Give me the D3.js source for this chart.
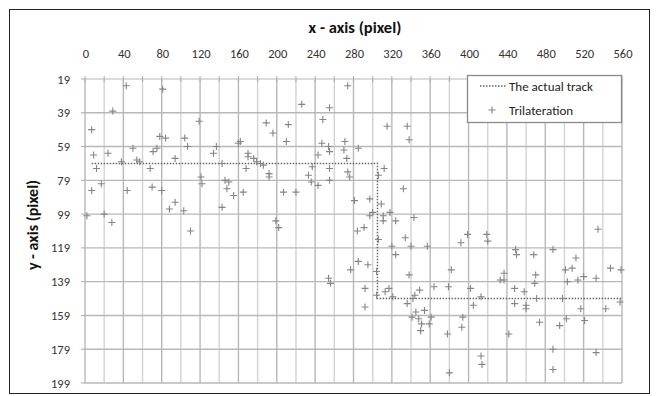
<!DOCTYPE html>
<html>
<head>
<meta charset="utf-8">
<script src="https://cdn.jsdelivr.net/npm/d3@7"></script>
<style>
  html, body { margin: 0; padding: 0; background: #fff; }
  svg { display: block; }
  text { font-family: Carlito, Calibri, Lato, "Open Sans", sans-serif; }
</style>
</head>
<body>
<svg id="chart" width="659" height="396"></svg>
<script>
// ---- data ----
const xTicks = [0, 40, 80, 120, 160, 200, 240, 280, 320, 360, 400, 440, 480, 520, 560];
const yTicks = [19, 39, 59, 79, 99, 119, 139, 159, 179, 199];

const trackX = [7, 305, 305, 560];
const trackY = [69, 69, 149, 149];

const triX = [
  43, 81, 29, 7, 119, 189, 78, 84, 104, 162, 160, 50, 75, 71, 107, 137, 134, 9, 24, 170,
  170, 176, 179, 183, 186, 54, 57, 38, 94, 68, 12, 168, 121, 122, 17, 7, 44, 70, 80, 146,
  150, 148, 155, 165, 94, 88, 103, 143, 2, 20, 28, 110, 143,
  274, 226, 255, 196, 212, 248, 315, 336, 338, 210, 247, 254, 255, 271, 270, 285, 243, 273,
  237, 255, 312, 192, 192, 233, 236, 243, 255, 274, 276, 306, 207, 220, 332, 281, 297, 309,
  300, 297, 311, 311, 318, 324, 343, 199, 202, 291, 284,
  306, 334, 320, 340, 357, 324, 285, 295, 277, 304, 338, 382, 254, 256, 292, 317, 313, 304,
  321, 344, 349, 342, 364, 379, 336, 292, 345, 354, 341, 348, 361, 351, 359, 350, 378, 380,
  535, 399, 392, 419, 420, 449, 450, 468, 488, 512, 501, 508, 548, 559, 437, 433, 437, 470,
  469, 503, 514, 520, 533, 402, 413, 448, 458, 471, 498, 405, 448, 460, 460, 517, 543, 558,
  394, 393, 502, 521, 474, 495, 442, 413, 414, 488, 488, 533
];
const triY = [
  23, 25, 38, 49, 44, 45, 53, 54, 54, 56, 57, 60, 60, 62, 59, 59, 63, 64, 63, 63,
  65, 66, 68, 69, 70, 67, 68, 68, 66, 72, 72, 72, 77, 81, 81, 85, 85, 83, 85, 79,
  80, 84, 88, 86, 92, 96, 97, 95, 100, 99, 104, 109, 69,
  23, 34, 36, 51, 46, 43, 47, 47, 55, 56, 57, 59, 62, 56, 61, 60, 64, 66,
  71, 72, 72, 75, 77, 76, 80, 82, 79, 74, 77, 76, 86, 86, 84, 91, 90, 93,
  98, 100, 100, 103, 98, 103, 101, 103, 107, 107, 109,
  114, 113, 118, 118, 118, 123, 127, 129, 132, 133, 135, 132, 137, 140, 143, 143, 145, 147,
  148, 147, 144, 149, 142, 142, 152, 154, 157, 156, 160, 161, 160, 164, 164, 168, 170, 193,
  108, 111, 116, 111, 115, 120, 123, 123, 120, 125, 132, 131, 131, 132, 134, 138, 138, 135,
  140, 139, 138, 136, 137, 143, 148, 143, 145, 149, 149, 153, 152, 153, 155, 155, 155, 151,
  160, 166, 161, 162, 163, 165, 170, 183, 188, 179, 191, 181
];

// ---- layout ----
const svg = d3.select("#chart");
const x = d3.scaleLinear().domain([0, 560]).range([85, 622]);
const y = d3.scaleLinear().domain([19, 199]).range([79, 383]);

// outer frame
svg.append("rect").attr("x", 9.5).attr("y", 9.5).attr("width", 640).attr("height", 384)
  .attr("fill", "#fff").attr("stroke", "#222").attr("stroke-width", 1);

// gridlines
const g = svg.append("g");
const minorX = d3.range(20, 561, 40);
g.selectAll(".vminor").data(minorX).join("line")
  .attr("x1", d => x(d)).attr("x2", d => x(d)).attr("y1", y(19)).attr("y2", y(199))
  .attr("stroke", "#d3d3d3").attr("stroke-width", 1.4);
g.selectAll(".vmajor").data(xTicks).join("line")
  .attr("x1", d => x(d)).attr("x2", d => x(d)).attr("y1", y(19)).attr("y2", y(199))
  .attr("stroke", "#b8b8b8").attr("stroke-width", 1.4);
g.selectAll(".hmajor").data(yTicks).join("line")
  .attr("x1", x(0)).attr("x2", x(560)).attr("y1", d => y(d)).attr("y2", d => y(d))
  .attr("stroke", d => d === 19 ? "#cfcfcf" : "#b8b8b8").attr("stroke-width", 1.4);

// top axis ticks (crosses)
g.selectAll(".xt").data(d3.range(0, 561, 20)).join("line")
  .attr("x1", d => x(d)).attr("x2", d => x(d)).attr("y1", y(19) - 3).attr("y2", y(19) + 3)
  .attr("stroke", "#aaa").attr("stroke-width", 1);
// left axis ticks
g.selectAll(".yt").data(yTicks).join("line")
  .attr("x1", x(0) - 4).attr("x2", x(0)).attr("y1", d => y(d)).attr("y2", d => y(d))
  .attr("stroke", "#aaa").attr("stroke-width", 1);

// tick labels
svg.append("g").selectAll("text").data(xTicks).join("text")
  .attr("x", d => x(d) + 1).attr("y", 53).attr("text-anchor", "middle")
  .attr("dominant-baseline", "central").attr("font-size", 12.5).attr("fill", "#333")
  .text(d => d);
svg.append("g").selectAll("text").data(yTicks).join("text")
  .attr("x", 70).attr("y", d => y(d)).attr("text-anchor", "end")
  .attr("dominant-baseline", "central").attr("font-size", 12.5).attr("fill", "#333")
  .text(d => d);

// axis titles
svg.append("text").attr("x", 355).attr("y", 27).attr("text-anchor", "middle")
  .attr("dominant-baseline", "central").attr("font-size", 16.5).attr("font-weight", "bold")
  .attr("fill", "#111").text("x - axis (pixel)");
svg.append("text").attr("transform", "translate(32,225) rotate(-90)")
  .attr("text-anchor", "middle").attr("dominant-baseline", "central")
  .attr("font-size", 16).attr("font-weight", "bold").attr("fill", "#111")
  .text("y - axis (pixel)");

// actual track
const trackPts = trackX.map((d, i) => [x(d), y(trackY[i])]);
svg.append("path").attr("d", d3.line()(trackPts))
  .attr("fill", "none").attr("stroke", "#666").attr("stroke-width", 1.5)
  .attr("stroke-dasharray", "1.5,1.5");

// trilateration points
const pts = triX.map((d, i) => [d, triY[i]]);
const s = 3.5;
const pg = svg.append("g").attr("stroke", "#858585").attr("stroke-width", 1.1);
pg.selectAll("path").data(pts).join("path")
  .attr("d", d => {
    const cx = x(d[0]), cy = y(d[1]);
    return `M${cx - s},${cy}H${cx + s}M${cx},${cy - s}V${cy + s}`;
  });

// legend
const lg = svg.append("g");
lg.append("rect").attr("x", 467.5).attr("y", 75.5).attr("width", 154).attr("height", 47)
  .attr("fill", "#fff").attr("stroke", "#8a8a8a").attr("stroke-width", 1.3);
lg.append("line").attr("x1", 480).attr("x2", 506).attr("y1", 86).attr("y2", 86)
  .attr("stroke", "#666").attr("stroke-width", 1.5).attr("stroke-dasharray", "1.5,1.5");
lg.append("path").attr("d", `M${492 - s},110H${492 + s}M492,${110 - s}V${110 + s}`)
  .attr("stroke", "#858585").attr("stroke-width", 1.1);
lg.append("text").attr("x", 509).attr("y", 86).attr("dominant-baseline", "central")
  .attr("font-size", 13).attr("fill", "#222").text("The actual track");
lg.append("text").attr("x", 509).attr("y", 110).attr("dominant-baseline", "central")
  .attr("font-size", 13).attr("fill", "#222").text("Trilateration");
</script>
</body>
</html>
